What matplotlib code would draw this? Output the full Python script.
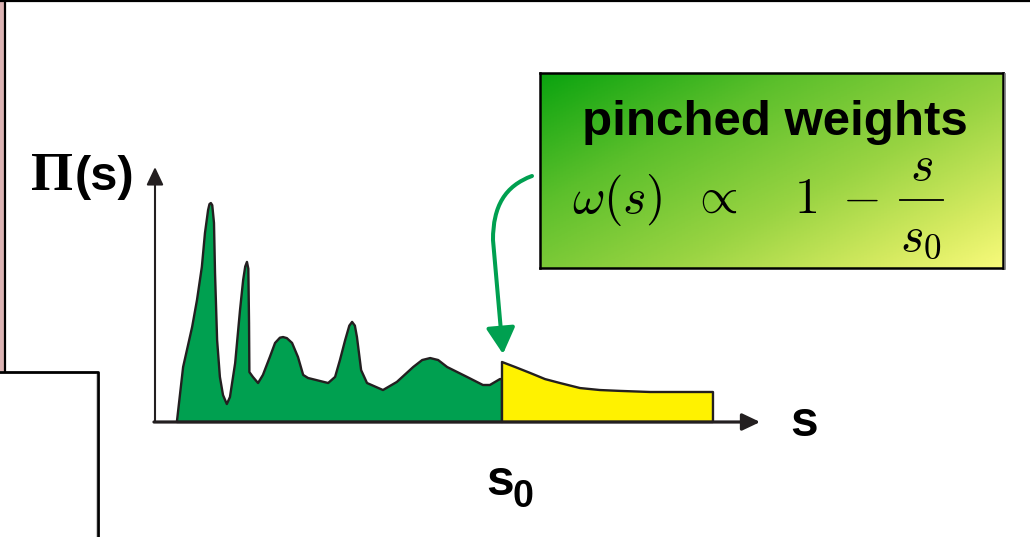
import matplotlib
matplotlib.use("Agg")
import matplotlib.pyplot as plt
import numpy as np
from matplotlib.path import Path
from matplotlib.patches import FancyArrowPatch, Rectangle
from matplotlib.transforms import Affine2D
from matplotlib.colors import LinearSegmentedColormap

plt.rcParams["mathtext.fontset"] = "cm"

# Spectral function below the threshold s0 (s in units of s0, Pi normalised to the highest peak)
s_low = [0.063, 0.081, 0.107, 0.121, 0.135, 0.144, 0.153, 0.157, 0.161, 0.165, 0.170,
         0.173, 0.179, 0.187, 0.196, 0.207, 0.216, 0.231, 0.245, 0.254, 0.260, 0.265,
         0.269, 0.271, 0.272, 0.282, 0.297, 0.311, 0.331, 0.346, 0.360, 0.369, 0.380,
         0.395, 0.412, 0.427, 0.441, 0.499, 0.519, 0.533, 0.548, 0.560, 0.568, 0.576,
         0.582, 0.594, 0.611, 0.657, 0.697, 0.744, 0.770, 0.793, 0.816, 0.842, 0.899,
         0.945, 0.965, 0.994, 1.000]
pi_low = [0.000, 0.251, 0.434, 0.557, 0.708, 0.863, 0.968, 0.995, 1.000, 0.990, 0.909,
          0.680, 0.374, 0.206, 0.123, 0.082, 0.114, 0.269, 0.511, 0.648, 0.710, 0.731,
          0.700, 0.452, 0.228, 0.206, 0.178, 0.215, 0.297, 0.361, 0.385, 0.388, 0.383,
          0.361, 0.297, 0.215, 0.201, 0.178, 0.206, 0.283, 0.374, 0.440, 0.457, 0.440,
          0.388, 0.237, 0.178, 0.146, 0.183, 0.251, 0.283, 0.292, 0.283, 0.251, 0.206,
          0.169, 0.169, 0.196, 0.196]

# Continuum above the threshold
s_high = [1.000, 1.038, 1.081, 1.124, 1.167, 1.225, 1.282, 1.340, 1.427, 1.513, 1.608]
pi_high = [0.274, 0.251, 0.224, 0.196, 0.178, 0.155, 0.146, 0.142, 0.137, 0.137, 0.137]

S_AXIS_END = 1.744
PI_AXIS_END = 1.164

W, H = 1030, 537
fig = plt.figure(figsize=(W / 100, H / 100), dpi=100)

# pixel-style coordinates for the slide decoration (origin top-left)
px = Affine2D().scale(1 / W, -1 / H).translate(0, 1) + fig.transFigure

ax = fig.add_axes([0, 0, 1, 1])
ax.set_xlim(-155 / 347, 875 / 347)
ax.set_ylim(-115 / 219, 422 / 219)
ax.axis("off")

edge = "#231f20"
green = "#00a050"
yellow = "#fff200"

ax.fill(s_low + [s_low[-1]], pi_low + [0.0], facecolor=green, edgecolor=edge,
        lw=1.7, joinstyle="round", zorder=2)
ax.fill([s_high[0]] + s_high + [s_high[-1]], [0.0] + pi_high + [0.0],
        facecolor=yellow, edgecolor=edge, lw=1.7, joinstyle="round", zorder=2)

# coordinate axes with arrow heads
ax.annotate("", xy=(0, PI_AXIS_END), xytext=(0, 0),
            arrowprops=dict(arrowstyle="-|>,head_length=0.4,head_width=0.19",
                            mutation_scale=27, lw=1.5, color=edge,
                            shrinkA=0, shrinkB=0), zorder=3)
ax.annotate("", xy=(S_AXIS_END, 0), xytext=(-0.003, 0),
            arrowprops=dict(arrowstyle="-|>,head_length=0.4,head_width=0.19",
                            mutation_scale=27, lw=2.3, color=edge,
                            shrinkA=0, shrinkB=0), zorder=3)

# slide frame
fig.add_artist(Rectangle((0, 0), 4, 371, transform=px, facecolor="#dcb4b4",
                         edgecolor="none"))
fig.add_artist(plt.Line2D([4.5, 4.5], [0, 371], transform=px, color="black", lw=1.6))
fig.add_artist(plt.Line2D([0, W], [1, 1], transform=px, color="black", lw=1.6))
fig.add_artist(Rectangle((0, 372), 98, 170, transform=px, facecolor="white",
                         edgecolor="none"))
fig.add_artist(plt.Line2D([0, 98, 98], [372, 372, H + 2], transform=px,
                          color="black", lw=2.0))
fig.add_artist(plt.Line2D([95.5, 95.5], [374, H], transform=px, color="#cccccc", lw=0.8))

# axis labels
fig.text(31, 190, "Π", transform=px, family="Liberation Serif", weight="bold",
         fontsize=39, ha="left", va="baseline")
fig.text(75, 190, "(s)", transform=px, family="Liberation Sans", weight="bold",
         fontsize=35, ha="left", va="baseline")
fig.text(790, 436, "s", transform=px, family="Liberation Sans", weight="bold",
         fontsize=36, ha="left", va="baseline")
fig.text(486, 495, "s", transform=px, family="Liberation Sans", weight="bold",
         fontsize=36, ha="left", va="baseline")
fig.text(512, 507, "0", transform=px, family="Liberation Sans", weight="bold",
         fontsize=27, ha="left", va="baseline")

# gradient box with the weight function
bx0, by0, bx1, by1 = 540, 73, 1003, 268
bax = fig.add_axes([bx0 / W, 1 - by1 / H, (bx1 - bx0) / W, (by1 - by0) / H])
u = np.linspace(0, 1, 300)
v = np.linspace(0, 1, 120)
U, V = np.meshgrid(u, v)
T = 0.55 * U + 0.45 * V
cmap = LinearSegmentedColormap.from_list(
    "box", [(0.0, (0.04, 0.64, 0.06)), (0.3, (0.36, 0.75, 0.17)),
            (0.6, (0.60, 0.83, 0.26)), (0.85, (0.84, 0.92, 0.38)),
            (1.0, (0.97, 0.98, 0.48))])
bax.imshow(T, cmap=cmap, aspect="auto", extent=(0, 1, 1, 0), vmin=0, vmax=1)
bax.set_xticks([])
bax.set_yticks([])
for sp in bax.spines.values():
    sp.set_linewidth(1.8)
    sp.set_color("black")
fig.add_artist(plt.Line2D([1005, 1005], [74, 269], transform=px, color="#777777", lw=1.2))

fig.text(775, 135, "pinched weights", transform=px, family="Liberation Sans",
         weight="bold", fontsize=35.5, ha="center", va="baseline", zorder=5)
fig.text(572, 213, r"$\omega(s)$", transform=px, fontsize=36, ha="left",
         va="baseline", zorder=5)
fig.text(714, 199, r"$\propto$", transform=px, fontsize=36, ha="center",
         va="center", zorder=5)
fig.text(794, 213, r"$1\ -$", transform=px, fontsize=36, ha="left",
         va="baseline", zorder=5)
# fraction s / s0
fig.text(921, 180, r"$s$", transform=px, fontsize=36, ha="center",
         va="baseline", zorder=5)
fig.add_artist(plt.Line2D([900, 943], [200, 200], transform=px, color="black",
                          lw=1.3, zorder=5))
fig.text(921, 250, r"$s_0$", transform=px, fontsize=36, ha="center",
         va="baseline", zorder=5)

# curved pointer from the box to the threshold
arrow_path = Path([(532, 176), (505, 186), (493, 206), (493, 240), (503, 354)],
                  [Path.MOVETO, Path.CURVE4, Path.CURVE4, Path.CURVE4, Path.LINETO])
fig.add_artist(FancyArrowPatch(path=arrow_path, transform=px,
                               arrowstyle="-|>,head_length=0.4,head_width=0.22",
                               mutation_scale=40, lw=2.9, color=green,
                               capstyle="round", joinstyle="round"))

fig.savefig("out.png", dpi=100, facecolor="white")
